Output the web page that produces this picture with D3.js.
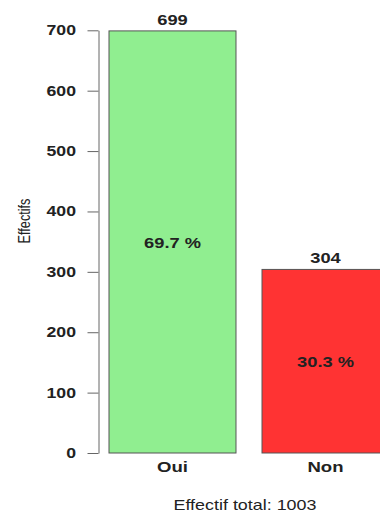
<!DOCTYPE html>
<html><head><meta charset="utf-8">
<script src="https://cdn.jsdelivr.net/npm/d3@7"></script>
<style>body{margin:0;background:#fff}svg{display:block}text{font-family:"Liberation Sans",Arial,sans-serif}</style>
</head><body>
<script>
const categories = ["Oui", "Non"];
const counts = [699, 304];
const colors = ["#90ee90", "#ff3333"];
const yTicks = [0, 100, 200, 300, 400, 500, 600, 700];
const total = counts.reduce((a,b)=>a+b,0);

const W = 380, H = 518, SX = 1.28;
const svg = d3.select("body").append("svg").attr("width", W).attr("height", H);
const y = d3.scaleLinear().domain([0, 700]).range([453, 30.3]);
const x = d3.scaleBand().domain(categories).range([109, 389]).paddingInner(0.17);

const axis = svg.append("g").attr("transform", "translate(98.5,0)")
  .call(d3.axisLeft(y).tickValues(yTicks).tickSize(11).tickPadding(10).tickSizeOuter(0));
axis.select(".domain").attr("stroke", "#666");
axis.selectAll(".tick line").attr("stroke", "#666");
axis.selectAll(".tick text").attr("font-size", 13.8).attr("font-weight", "bold").attr("fill", "#222")
  .attr("x", -22.5 / SX).attr("transform", `scale(${SX},1)`);

svg.append("g").selectAll("rect").data(categories).join("rect")
  .attr("x", d => x(d)).attr("width", x.bandwidth())
  .attr("y", (d,i) => y(counts[i])).attr("height", (d,i) => y(0) - y(counts[i]))
  .attr("fill", (d,i) => colors[i]).attr("stroke", "#555").attr("stroke-width", 1);

function label(g, px, py, txt, size, weight, rot) {
  return g.append("text")
    .attr("transform", `translate(${px},${py}) scale(${SX},1)` + (rot ? " rotate(-90)" : ""))
    .attr("text-anchor", "middle").attr("font-size", size).attr("font-weight", weight)
    .attr("fill", "#222").text(txt);
}

categories.forEach((c, i) => {
  const cx = x(c) + x.bandwidth()/2;
  label(svg, cx, y(counts[i]) - 6, counts[i], 14.3, "bold");
  label(svg, cx, (y(counts[i]) + y(0))/2 + 6, (counts[i]/total*100).toFixed(1) + " %", 14.3, "bold");
  label(svg, cx, 472, c, 14.5, "bold");
});

label(svg, 30, 221, "Effectifs", 12.7, "normal", true);
label(svg, 245, 510, "Effectif total: " + total, 14, "normal");
</script>
</body></html>
